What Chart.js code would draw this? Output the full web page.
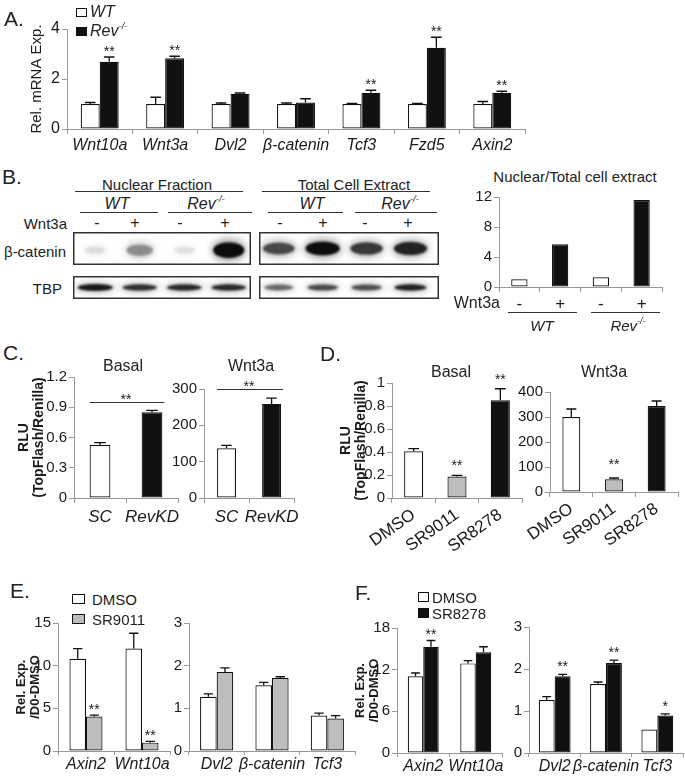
<!DOCTYPE html>
<html>
<head>
<meta charset="utf-8">
<script src="https://cdn.jsdelivr.net/npm/chart.js@4.4.1/dist/chart.umd.min.js"></script>
<style>
  html, body { margin: 0; padding: 0; background: #fff; }
  body { width: 685px; height: 780px; position: relative; overflow: hidden;
         font-family: 'Liberation Sans', Arial, sans-serif; color: #222; }
  canvas { position: absolute; }
  .t { position: absolute; white-space: nowrap; line-height: 1; z-index: 2; }
  .ln { position: absolute; height: 0; border-top: 1px solid #333; z-index: 2; }
  .key { position: absolute; border: 1px solid #111; box-sizing: border-box; z-index: 2; }
  .sp { font-size: 0.6em; position: relative; top: -0.75em; }
</style>
</head>
<body>
<script>
// ---------- data ----------
// A. qPCR, WT vs Rev-/-
const aGenes = ['Wnt10a', 'Wnt3a', 'Dvl2', 'β-catenin', 'Tcf3', 'Fzd5', 'Axin2'];
const aWT = [1, 1, 1, 1, 1, 1, 1];
const aWTErr = [0.06, 0.27, 0.04, 0.04, 0.02, 0.02, 0.1];
const aRev = [2.69, 2.83, 1.41, 1.06, 1.45, 3.25, 1.45];
const aRevErr = [0.19, 0.08, 0.03, 0.15, 0.1, 0.42, 0.06];
const aStars = ['**', '**', '', '', '**', '**', '**'];

// B. western blot band intensities (lanes: WT -, WT +, Rev -, Rev +)
const lanes = [0, 1, 2, 3];
const nucBetaCat = [0.1, 0.55, 0.06, 1.0];
const totBetaCat = [0.8, 1.0, 0.85, 0.92];
const nucTbp = [0.95, 0.88, 0.9, 0.9];
const totTbp = [0.7, 0.8, 0.78, 0.92];
// B. quantification
const bLabels = ['-', '+', '-', '+'];
const bRatio = [1.03, 5.69, 1.29, 11.6];

// C. TopFlash, SC vs RevKD
const cLabels = ['SC', 'RevKD'];
const cBasal = [0.526, 0.85];
const cBasalErr = [0.023, 0.02];
const cWnt = [137, 259];
const cWntErr = [8, 16];

// D. TopFlash with ligands
const dLabels = ['DMSO', 'SR9011', 'SR8278'];
const dBasal = [0.406, 0.186, 0.85];
const dBasalErr = [0.024, 0.011, 0.1];
const dBasalStars = ['', '**', '**'];
const dWnt = [300, 51, 344];
const dWntErr = [32, 5, 20];
const dWntStars = ['', '**', ''];

// E. DMSO vs SR9011
const eLeftGenes = ['Axin2', 'Wnt10a'];
const eLeftDmso = [10.8, 12.0];
const eLeftDmsoErr = [1.2, 1.8];
const eLeftSr = [4.04, 0.98];
const eLeftSrErr = [0.16, 0.14];
const eLeftStars = ['**', '**'];
const eRightGenes = ['Dvl2', 'β-catenin', 'Tcf3'];
const eRightDmso = [1.27, 1.54, 0.83];
const eRightDmsoErr = [0.07, 0.07, 0.06];
const eRightSr = [1.85, 1.71, 0.76];
const eRightSrErr = [0.1, 0.03, 0.07];

// F. DMSO vs SR8278
const fLeftGenes = ['Axin2', 'Wnt10a'];
const fLeftDmso = [11.06, 12.9];
const fLeftDmsoErr = [0.46, 0.4];
const fLeftSr = [15.3, 14.5];
const fLeftSrErr = [0.9, 0.8];
const fLeftStars = ['**', ''];
const fRightGenes = ['Dvl2', 'β-catenin', 'Tcf3'];
const fRightDmso = [1.26, 1.64, 0.56];
const fRightDmsoErr = [0.08, 0.05, 0];
const fRightSr = [1.83, 2.14, 0.89];
const fRightSrErr = [0.04, 0.07, 0.04];
const fRightStars = ['**', '**', '*'];

// ---------- shared setup ----------
const FONT = "'Liberation Sans', Arial, sans-serif";
const AXIS = '#999';
const INK = '#1a1a1a';
const GREY = '#bdbdbd';
Chart.defaults.font.family = FONT;
Chart.defaults.color = INK;

function mkCanvas(left, top, w, h) {
  const c = document.createElement('canvas');
  c.width = w;
  c.height = h;
  Object.assign(c.style, { left: left + 'px', top: top + 'px', width: w + 'px', height: h + 'px' });
  document.body.appendChild(c);
  return c;
}

function label(x, y, html, size, opt = {}) {
  const d = document.createElement('div');
  d.className = 't';
  d.innerHTML = html;
  const tx = opt.align === 'left' ? '0' : opt.align === 'right' ? '-100%' : '-50%';
  Object.assign(d.style, {
    left: x + 'px', top: y + 'px', fontSize: size + 'px',
    transform: `translate(${tx},-50%)`,
    fontStyle: opt.italic ? 'italic' : 'normal',
    fontWeight: opt.bold ? 'bold' : 'normal'
  });
  document.body.appendChild(d);
}

function rule(x1, x2, y) {
  const d = document.createElement('div');
  d.className = 'ln';
  Object.assign(d.style, { left: x1 + 'px', top: y + 'px', width: (x2 - x1) + 'px' });
  document.body.appendChild(d);
}

function key(x, y, w, h, color) {
  const d = document.createElement('div');
  d.className = 'key';
  Object.assign(d.style, { left: x + 'px', top: y + 'px', width: w + 'px', height: h + 'px', background: color });
  document.body.appendChild(d);
}

// error bars (upper only), asterisks and a significance bar
const markPlugin = {
  id: 'marks',
  afterDatasetsDraw(chart, args, opts) {
    const ctx = chart.ctx;
    const y = chart.scales.y;
    ctx.save();
    ctx.font = `14px ${FONT}`;
    ctx.textAlign = 'center';
    ctx.textBaseline = 'alphabetic';
    chart.data.datasets.forEach((ds, di) => {
      chart.getDatasetMeta(di).data.forEach((bar, i) => {
        const e = ds.err ? ds.err[i] : 0;
        const top = y.getPixelForValue(ds.data[i] + e);
        if (e > 0) {
          const cw = bar.width * 0.28;
          ctx.strokeStyle = '#111';
          ctx.lineWidth = 1.3;
          ctx.beginPath();
          ctx.moveTo(bar.x, bar.y);
          ctx.lineTo(bar.x, top);
          ctx.moveTo(bar.x - cw, top);
          ctx.lineTo(bar.x + cw, top);
          ctx.stroke();
        }
        if (ds.stars && ds.stars[i]) {
          ctx.fillStyle = INK;
          ctx.fillText(ds.stars[i], bar.x, top - (opts.gap || 9) + 8);
        }
      });
    });
    if (opts.sig) {
      const bars = chart.getDatasetMeta(0).data;
      const first = bars[0], last = bars[bars.length - 1];
      const ly = Math.round(y.getPixelForValue(opts.sig.value)) + 0.5;
      ctx.strokeStyle = '#333';
      ctx.lineWidth = 1;
      ctx.beginPath();
      ctx.moveTo(first.x - first.width / 2, ly);
      ctx.lineTo(last.x + last.width / 2 + 2, ly);
      ctx.stroke();
      ctx.fillStyle = INK;
      ctx.fillText(opts.sig.text, (first.x + last.x) / 2, ly + 1);
    }
    ctx.restore();
  }
};

function barChart(area, m, cfg) {
  const w = area.r - area.l + m.l + m.r;
  const h = area.b - area.t + m.t + m.b;
  const c = mkCanvas(area.l - m.l, area.t - m.t, w, h);
  return new Chart(c, {
    type: 'bar',
    data: {
      labels: cfg.labels,
      datasets: cfg.datasets.map(d => ({
        data: d.data, err: d.err, stars: d.stars,
        backgroundColor: d.color, borderColor: '#111', borderWidth: 1.2, borderSkipped: false,
        categoryPercentage: cfg.cat, barPercentage: 1
      }))
    },
    options: {
      responsive: false,
      animation: false,
      devicePixelRatio: 1,
      layout: { padding: { left: 0, top: m.t, right: m.r, bottom: 0 } },
      plugins: {
        legend: { display: false },
        tooltip: { enabled: false },
        marks: { gap: cfg.gap, sig: cfg.sig }
      },
      scales: {
        x: {
          offset: true,
          grid: { display: true, drawOnChartArea: false, offset: true, tickLength: cfg.tick || 5, color: AXIS },
          border: { color: AXIS, width: 1 },
          ticks: {
            font: cfg.xFont, color: INK, padding: cfg.xPad ?? 2, autoSkip: false,
            maxRotation: cfg.rot || 0, minRotation: cfg.rot || 0
          },
          afterFit: s => { s.height = m.b; }
        },
        y: {
          min: 0, max: cfg.max,
          grid: { drawOnChartArea: false, tickLength: 5, color: AXIS },
          border: { color: AXIS, width: 1 },
          ticks: {
            stepSize: cfg.step, font: cfg.yFont || { size: 15 }, color: INK, padding: 2,
            callback: v => String(+v.toFixed(2))
          },
          title: cfg.title
            ? { display: true, text: cfg.title.text, font: cfg.title.font, color: INK, padding: { top: cfg.title.pad, bottom: 0 } }
            : { display: false },
          afterFit: s => { s.width = m.l; }
        }
      }
    },
    plugins: [markPlugin]
  });
}

// ---------- western blot ----------
function smear(ctx, x, y, w, h, a, blur) {
  ctx.save();
  ctx.filter = `blur(${blur}px)`;
  ctx.fillStyle = `rgba(12,12,12,${a})`;
  ctx.beginPath();
  ctx.ellipse(x, y, w / 2, h / 2, 0, 0, Math.PI * 2);
  ctx.fill();
  ctx.restore();
}

const blotPlugin = {
  id: 'blot',
  beforeDatasetsDraw(chart, args, o) {
    const { ctx, chartArea: a, scales: { x } } = chart;
    const step = Math.abs(x.getPixelForValue(1) - x.getPixelForValue(0));
    const cy = a.top + (a.bottom - a.top) * o.cy;
    ctx.save();
    ctx.fillStyle = '#fff';
    ctx.fillRect(a.left, a.top, a.width, a.height);
    chart.data.datasets[0].data.forEach(p => {
      const v = p.y;
      const px = x.getPixelForValue(p.x);
      const w = step * (o.w0 + o.w1 * v);
      const h = o.h0 + o.h1 * v;
      smear(ctx, px, cy, w * 1.15, h * 1.6, 0.05 + 0.22 * v, 3);
      smear(ctx, px, cy, w, h, Math.min(1, 0.08 + 0.95 * v * v), 1.3);
    });
    ctx.lineWidth = 1.5;
    ctx.strokeStyle = '#333';
    ctx.strokeRect(a.left + 0.75, a.top + 0.75, a.width - 1.5, a.height - 1.5);
    ctx.restore();
  }
};

function blot(area, values, o) {
  const c = mkCanvas(area.l, area.t, area.r - area.l, area.b - area.t);
  return new Chart(c, {
    type: 'scatter',
    data: { datasets: [{ data: lanes.map((l, i) => ({ x: l, y: values[i] })), pointRadius: 0 }] },
    options: {
      responsive: false, animation: false, devicePixelRatio: 1,
      layout: { padding: 0 },
      plugins: { legend: { display: false }, tooltip: { enabled: false }, blot: o },
      scales: {
        x: { type: 'linear', display: false, min: o.min, max: o.max },
        y: { display: false, min: 0, max: 1 }
      }
    },
    plugins: [blotPlugin]
  });
}

// ---------- panel A ----------
barChart({ l: 67, t: 29, r: 525, b: 129 }, { l: 60, t: 12, r: 8, b: 30 }, {
  labels: aGenes,
  datasets: [
    { data: aWT, err: aWTErr, color: '#fff' },
    { data: aRev, err: aRevErr, stars: aStars, color: '#111' }
  ],
  cat: 0.58, max: 4, step: 2, gap: 9,
  yFont: { size: 16 }, xFont: { size: 16, style: 'italic' }, xPad: 2,
  title: { text: 'Rel. mRNA Exp.', font: { size: 15 }, pad: 21 }
});
label(4, 18, 'A.', 21, { align: 'left' });
key(76, 8, 11, 9, '#fff');
label(90, 12, 'WT', 16, { align: 'left', italic: true });
key(76, 27, 11, 9, '#111');
label(90, 31, 'Rev<span class="sp">-/-</span>', 16, { align: 'left', italic: true });

// ---------- panel B ----------
const nucX = { min: -0.5, max: 3.5 };
const totX = { min: -0.45, max: 3.65 };
blot({ l: 73, t: 232, r: 251, b: 265 }, nucBetaCat, { ...nucX, cy: 0.55, w0: 0.45, w1: 0.25, h0: 6, h1: 10 });
blot({ l: 259, t: 232, r: 439, b: 265 }, totBetaCat, { ...totX, cy: 0.5, w0: 0.5, w1: 0.28, h0: 5, h1: 9 });
blot({ l: 73, t: 276, r: 251, b: 299 }, nucTbp, { ...nucX, cy: 0.5, w0: 0.55, w1: 0.25, h0: 3, h1: 4 });
blot({ l: 259, t: 276, r: 439, b: 299 }, totTbp, { ...totX, cy: 0.5, w0: 0.45, w1: 0.3, h0: 3, h1: 4 });

label(2, 176, 'B.', 21, { align: 'left' });
label(157, 184, 'Nuclear Fraction', 15);
rule(75, 243, 191);
label(354, 184, 'Total Cell Extract', 15);
rule(262, 430, 191);
label(117, 204, 'WT', 16, { italic: true });
rule(80, 158, 212);
label(206, 204, 'Rev<span class="sp">-/-</span>', 16, { italic: true });
rule(168, 252, 212);
label(312, 204, 'WT', 16, { italic: true });
rule(268, 343, 212);
label(400, 204, 'Rev<span class="sp">-/-</span>', 16, { italic: true });
rule(355, 437, 212);
label(67, 223, 'Wnt3a', 15, { align: 'right' });
[97, 135, 180, 225, 280, 323, 365, 408].forEach((x, i) => label(x, 223, i % 2 ? '+' : '-', 16));
label(66, 251, 'β-catenin', 15, { align: 'right' });
label(62, 288, 'TBP', 15, { align: 'right' });

barChart({ l: 499, t: 197, r: 662, b: 287 }, { l: 26, t: 12, r: 8, b: 24 }, {
  labels: bLabels,
  datasets: [{ data: bRatio, color: ['#fff', '#111', '#fff', '#111'] }],
  cat: 0.4, max: 12, step: 4, xFont: { size: 17 }, xPad: 2
});
label(575, 176, 'Nuclear/Total cell extract', 15);
label(500, 303, 'Wnt3a', 16, { align: 'right' });
rule(508, 577, 312);
rule(591, 660, 312);
label(542, 325, 'WT', 15, { italic: true });
label(628, 325, 'Rev<span class="sp">-/-</span>', 15, { italic: true });

// ---------- panel C ----------
const rluTitle = { text: ['RLU', '(TopFlash/Renilla)'], font: { size: 14, weight: 'bold', lineHeight: 1.1 }, pad: 0 };
barChart({ l: 74, t: 377, r: 178, b: 498 }, { l: 58, t: 12, r: 10, b: 30 }, {
  labels: cLabels,
  datasets: [{ data: cBasal, err: cBasalErr, color: ['#fff', '#111'] }],
  cat: 0.4, max: 1.2, step: 0.3, xFont: { size: 17, style: 'italic' }, xPad: 4,
  title: rluTitle, sig: { value: 0.95, text: '**' }
});
barChart({ l: 204, t: 389, r: 295, b: 498 }, { l: 32, t: 12, r: 10, b: 30 }, {
  labels: cLabels,
  datasets: [{ data: cWnt, err: cWntErr, color: ['#fff', '#111'] }],
  cat: 0.42, max: 300, step: 100, xFont: { size: 17, style: 'italic' }, xPad: 4,
  sig: { value: 300, text: '**' }
});
label(3, 352, 'C.', 21, { align: 'left' });
label(123, 366, 'Basal', 16);
label(251, 366, 'Wnt3a', 16);

// ---------- panel D ----------
barChart({ l: 392, t: 383, r: 522, b: 498 }, { l: 54, t: 12, r: 6, b: 70 }, {
  labels: dLabels,
  datasets: [{ data: dBasal, err: dBasalErr, stars: dBasalStars, color: ['#fff', GREY, '#111'] }],
  cat: 0.44, max: 1, step: 0.2, gap: 13, xFont: { size: 17 }, rot: 35,
  title: rluTitle
});
barChart({ l: 550, t: 392, r: 678, b: 492 }, { l: 34, t: 12, r: 6, b: 80 }, {
  labels: dLabels,
  datasets: [{ data: dWnt, err: dWntErr, stars: dWntStars, color: ['#fff', GREY, '#111'] }],
  cat: 0.42, max: 400, step: 100, gap: 17, xFont: { size: 17 }, rot: 35
});
label(320, 353, 'D.', 21, { align: 'left' });
label(451, 372, 'Basal', 16);
label(604, 372, 'Wnt3a', 16);

// ---------- panel E ----------
const relTitle = { text: ['Rel. Exp.', '/D0-DMSO'], font: { size: 13, weight: 'bold', lineHeight: 1.1 }, pad: 6 };
barChart({ l: 58, t: 623, r: 170, b: 751 }, { l: 50, t: 12, r: 4, b: 28 }, {
  labels: eLeftGenes,
  datasets: [
    { data: eLeftDmso, err: eLeftDmsoErr, color: '#fff' },
    { data: eLeftSr, err: eLeftSrErr, stars: eLeftStars, color: GREY }
  ],
  cat: 0.59, max: 15, step: 5, gap: 9, tick: 4, xPad: 0,
  xFont: { size: 16, style: 'italic' }, title: relTitle
});
barChart({ l: 189, t: 623, r: 355, b: 751 }, { l: 22, t: 12, r: 4, b: 28 }, {
  labels: eRightGenes,
  datasets: [
    { data: eRightDmso, err: eRightDmsoErr, color: '#fff' },
    { data: eRightSr, err: eRightSrErr, color: GREY }
  ],
  cat: 0.6, max: 3, step: 1, tick: 4, xPad: 0,
  xFont: { size: 16, style: 'italic' }
});
label(10, 590, 'E.', 21, { align: 'left' });
key(72, 594, 13, 10, '#fff');
label(92, 599, 'DMSO', 15, { align: 'left' });
key(72, 614, 13, 10, GREY);
label(92, 619, 'SR9011', 15, { align: 'left' });

// ---------- panel F ----------
barChart({ l: 397, t: 628, r: 502, b: 753 }, { l: 48, t: 12, r: 4, b: 26 }, {
  labels: fLeftGenes,
  datasets: [
    { data: fLeftDmso, err: fLeftDmsoErr, color: '#fff' },
    { data: fLeftSr, err: fLeftSrErr, stars: fLeftStars, color: '#111' }
  ],
  cat: 0.59, max: 18, step: 6, gap: 10, tick: 4, xPad: 0,
  xFont: { size: 16, style: 'italic' }, title: { ...relTitle, pad: 4 }
});
barChart({ l: 529, t: 627, r: 683, b: 753 }, { l: 22, t: 12, r: 2, b: 26 }, {
  labels: fRightGenes,
  datasets: [
    { data: fRightDmso, err: fRightDmsoErr, color: '#fff' },
    { data: fRightSr, err: fRightSrErr, stars: fRightStars, color: '#111' }
  ],
  cat: 0.62, max: 3, step: 1, gap: 11, tick: 4, xPad: 0,
  xFont: { size: 16, style: 'italic' }
});
label(355, 592, 'F.', 21, { align: 'left' });
key(418, 592, 11, 10, '#fff');
label(432, 597, 'DMSO', 15, { align: 'left' });
key(418, 608, 11, 10, '#111');
label(432, 613, 'SR8278', 15, { align: 'left' });
</script>
</body>
</html>
